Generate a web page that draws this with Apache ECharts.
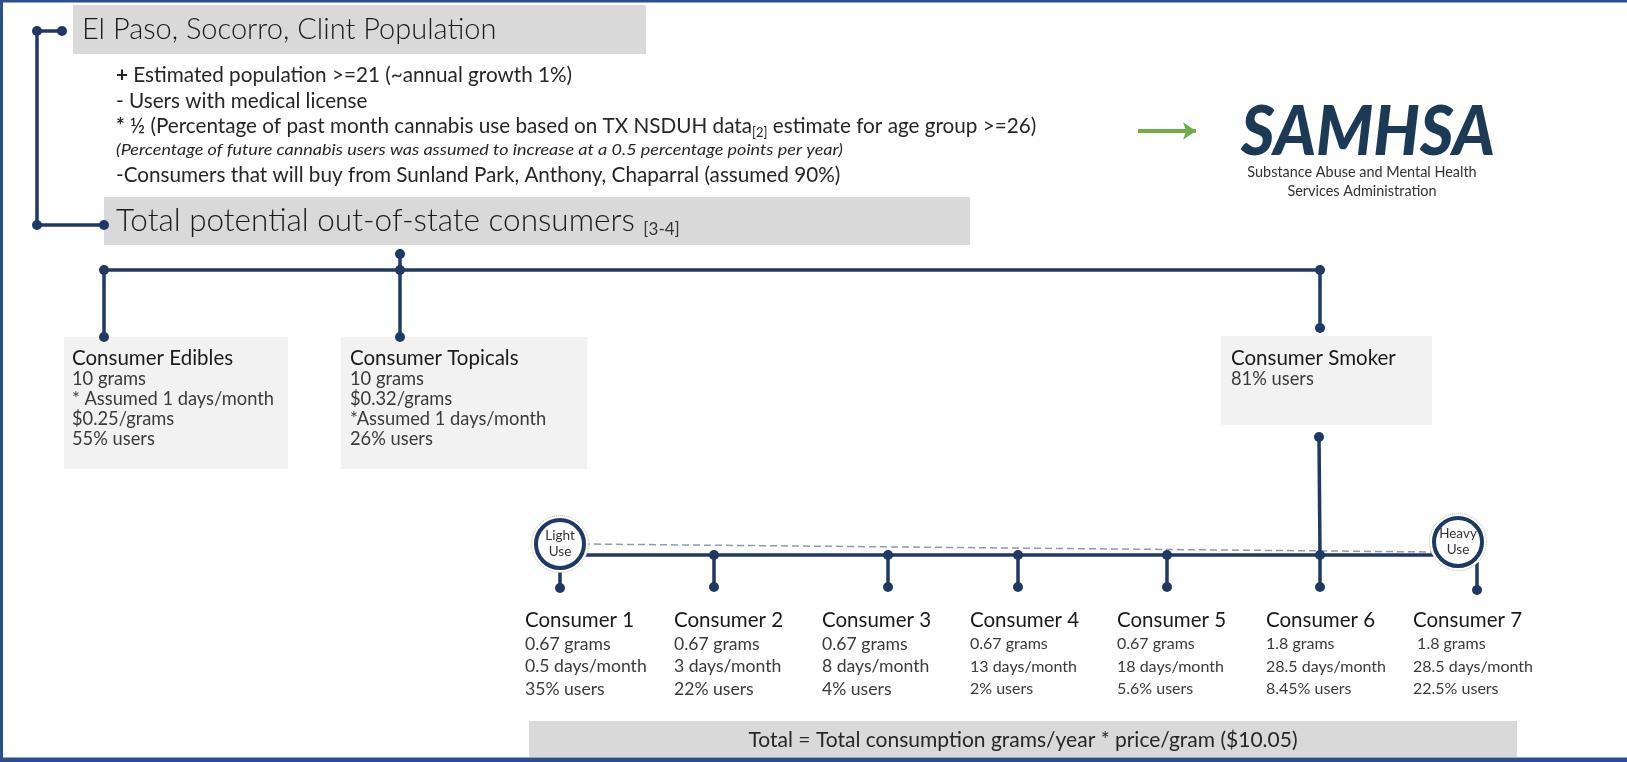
<!DOCTYPE html>
<html>
<head>
<meta charset="utf-8">
<script src="https://cdn.jsdelivr.net/npm/echarts@6/dist/echarts.min.js"></script>
<style>
  html, body { margin: 0; padding: 0; background: #fff; }
  #chart { width: 1627px; height: 762px; }
</style>
</head>
<body>
<div id="chart"></div>
<script>
  // ---- data ----
  const regionTitle = 'El Paso, Socorro, Clint Population'
  const adjustSteps = [
    '+ Estimated population >=21 (~annual growth 1%)',
    '- Users with medical license',
    '* ½ (Percentage of past month cannabis use based on TX NSDUH data[2] estimate for age group >=26)',
    '(Percentage of future cannabis users was assumed to increase at a 0.5 percentage points per year)',
    '-Consumers that will buy from Sunland Park, Anthony, Chaparral (assumed 90%)'
  ]
  const totalTitle = 'Total potential out-of-state consumers'
  const totalRef = '[3-4]'
  const productNames = ['Consumer Edibles', 'Consumer Topicals', 'Consumer Smoker']
  const productDetails = [
    ['10 grams', '* Assumed 1 days/month', '$0.25/grams', '55% users'],
    ['10 grams', '$0.32/grams', '*Assumed 1 days/month', '26% users'],
    ['81% users']
  ]
  const consumerNames = ['Consumer 1', 'Consumer 2', 'Consumer 3', 'Consumer 4', 'Consumer 5', 'Consumer 6', 'Consumer 7']
  const consumerGrams = ['0.67 grams', '0.67 grams', '0.67 grams', '0.67 grams', '0.67 grams', '1.8 grams', ' 1.8 grams']
  const consumerDays = ['0.5 days/month', '3 days/month', '8 days/month', '13 days/month', '18 days/month', '28.5 days/month', '28.5 days/month']
  const consumerUsers = ['35% users', '22% users', '4% users', '2% users', '5.6% users', '8.45% users', '22.5% users']
  const useScale = ['Light\nUse', 'Heavy\nUse']
  const totalFormula = 'Total = Total consumption grams/year * price/gram ($10.05)'
  const logoName = 'SAMHSA'
  const logoLines = ['Substance Abuse and Mental Health', 'Services Administration']

  // ---- layout (pixel space of the hidden axes) ----
  const W = 1627, H = 762
  const NAVY = '#1f3864'
  const FONT = 'Lato, "Open Sans", sans-serif'
  const stepY = [75, 101, 126, 150, 175]
  const productX = [104, 400, 1320]
  const productTextX = [72, 350, 1231]
  const consumerX = [560, 714, 888, 1018, 1167, 1320, 1477]
  const consumerTextX = [525, 674, 822, 970, 1117, 1266, 1413]
  const consumerDetailSize = [17.6, 17.6, 17.6, 16, 16, 16, 16]
  const smokeY = 555, stemEndY = 587
  const circles = [[560, 544], [1458, 542]]

  const boxes = [
    [0, 0, 3, H, '#2b4f8c'],
    [0, 0, W, 2.5, '#2b4f8c'],
    [0, 757.5, W, H, '#2b4f8c'],
    [73, 5, 646, 54, '#d9d9d9'],
    [104, 197, 970, 245, '#d9d9d9'],
    [64, 337, 288, 469, '#f2f2f2'],
    [341, 337, 587, 469, '#f2f2f2'],
    [1221, 336, 1432, 425, '#f2f2f2'],
    [529, 721, 1517, 757, '#d9d9d9']
  ]

  const connectors = [
    [[62, 31], [37, 31], [37, 225], [104, 225]],
    [[400, 254], [400, 270]],
    [[productX[0], 337], [productX[0], 270], [productX[2], 270], [productX[2], 328]],
    [[productX[1], 270], [productX[1], 337]],
    [[1319, 437], [1320, smokeY]],
    [[582, smokeY], [1436, smokeY]],
    [[consumerX[0], 566], [consumerX[0], 588]],
    [[consumerX[6], 562], [consumerX[6], 590]]
  ]
  const dots = [[37, 31], [62, 31], [37, 225], [104, 225], [400, 254],
    [productX[0], 270], [productX[1], 270], [productX[2], 270],
    [productX[0], 337], [productX[1], 337], [productX[2], 328], [1319, 437],
    [consumerX[0], 588], [consumerX[6], 590]]
  for (let i = 1; i < 6; i++) {
    connectors.push([[consumerX[i], smokeY], [consumerX[i], stemEndY]])
    dots.push([consumerX[i], smokeY], [consumerX[i], stemEndY])
  }

  // text labels
  const labels = []
  labels.push({ x: 82, y: 30, text: regionTitle, size: 29, weight: 300, fill: '#1a1a1a' })
  adjustSteps.forEach((s, i) => {
    let t = s
    if (i === 0 || i === 2) t = '{b|' + s[0] + '}' + s.slice(1)
    if (i === 2) t = t.replace('[2]', '{sub|[2]}')
    labels.push({
      x: 116, y: stepY[i], text: t,
      size: i === 3 ? 15 : 20.7, italic: i === 3, sx: i === 3 ? 1.2 : 1, fill: '#262626'
    })
  })
  labels.push({ x: 116, y: 221, text: totalTitle + ' {big|' + totalRef + '}', size: 31.5, weight: 300, fill: '#1a1a1a' })
  productNames.forEach((n, i) => {
    labels.push({ x: productTextX[i], y: 358, text: n, size: 20.5, fill: '#1a1a1a' })
    productDetails[i].forEach((d, j) => {
      labels.push({ x: productTextX[i], y: 379 + j * 20, text: d, size: 18.3, fill: '#3a3a3a' })
    })
  })
  consumerNames.forEach((n, i) => {
    labels.push({ x: consumerTextX[i], y: 620, text: n, size: 20.5, fill: '#1a1a1a' })
    ;[consumerGrams[i], consumerDays[i], consumerUsers[i]].forEach((d, j) => {
      labels.push({ x: consumerTextX[i], y: 644 + j * 22.5, text: d, size: consumerDetailSize[i], fill: '#3a3a3a' })
    })
  })
  labels.push({ x: 1023, y: 740, text: totalFormula, size: 21, fill: '#262626', align: 'center' })
  labels.push({ x: 1368, y: 133, text: logoName, size: 68, weight: 900, italic: true, fill: '#1c3a56', align: 'center', sx: 0.95 })
  logoLines.forEach((l, i) => {
    labels.push({ x: 1362, y: 172 + i * 19, text: l, size: 15.2, fill: '#333', align: 'center', sx: 0.95 })
  })

  const chart = echarts.init(document.getElementById('chart'))
  chart.setOption({
    animation: false,
    grid: { left: 0, right: 0, top: 0, bottom: 0 },
    xAxis: { type: 'value', min: 0, max: W, show: false },
    yAxis: { type: 'value', min: 0, max: H, inverse: true, show: false },
    series: [
      {
        type: 'custom',
        name: 'boxes',
        data: boxes.map((b, i) => [b[0], b[1], i]),
        renderItem: (params, api) => {
          const b = boxes[params.dataIndex]
          const p1 = api.coord([b[0], b[1]])
          const p2 = api.coord([b[2], b[3]])
          return {
            type: 'rect',
            shape: { x: p1[0], y: p1[1], width: p2[0] - p1[0], height: p2[1] - p1[1] },
            style: { fill: b[4] }
          }
        },
        silent: true
      },
      {
        type: 'lines',
        coordinateSystem: 'cartesian2d',
        polyline: true,
        data: connectors.map((c) => ({ coords: c })),
        lineStyle: { color: NAVY, width: 3.5, opacity: 1 },
        silent: true
      },
      {
        type: 'lines',
        coordinateSystem: 'cartesian2d',
        data: [{ coords: [[583, 544], [1436, 552]] }],
        lineStyle: { color: '#8a9bbd', width: 1.5, type: [7, 4], opacity: 1 },
        silent: true
      },
      {
        type: 'lines',
        coordinateSystem: 'cartesian2d',
        data: [{ coords: [[1138, 131], [1196, 131]] }],
        symbol: ['none', 'arrow'],
        symbolSize: 13,
        lineStyle: { color: '#70ad47', width: 4, opacity: 1 },
        silent: true
      },
      {
        type: 'scatter',
        data: dots,
        symbolSize: 10,
        itemStyle: { color: NAVY, opacity: 1 },
        silent: true
      },
      {
        type: 'scatter',
        data: circles,
        symbolSize: 57,
        itemStyle: { color: '#fff', borderColor: '#b8b8b8', borderWidth: 1, borderType: 'dotted', opacity: 1 },
        silent: true
      },
      {
        type: 'scatter',
        data: circles.map((c, i) => ({ value: c, name: useScale[i] })),
        symbolSize: 48,
        itemStyle: { color: '#fff', borderColor: NAVY, borderWidth: 4, opacity: 1 },
        label: {
          show: true, position: 'inside', formatter: '{b}',
          fontFamily: FONT, fontSize: 13.5, lineHeight: 16, color: '#333'
        },
        silent: true
      },
      {
        type: 'custom',
        name: 'labels',
        data: labels.map((t, i) => [t.x, t.y, i]),
        renderItem: (params, api) => {
          const t = labels[params.dataIndex]
          const p = api.coord([t.x, t.y])
          const base = {
            fontFamily: FONT, fontSize: t.size, fontWeight: t.weight || 400,
            fontStyle: t.italic ? 'italic' : 'normal', fill: t.fill
          }
          return {
            type: 'text',
            x: p[0], y: p[1],
            scaleX: t.sx || 1,
            style: Object.assign({}, base, {
              text: t.text,
              align: t.align || 'left',
              verticalAlign: 'middle',
              rich: {
                b: Object.assign({}, base, { fontWeight: 700 }),
                sub: Object.assign({}, base, { fontSize: 13, padding: [13, 0, 0, 0] }),
                big: Object.assign({}, base, { fontSize: 17, fontWeight: 400, fill: '#333', padding: [18, 0, 0, 0] })
              }
            })
          }
        },
        silent: true
      }
    ]
  })
</script>
</body>
</html>
